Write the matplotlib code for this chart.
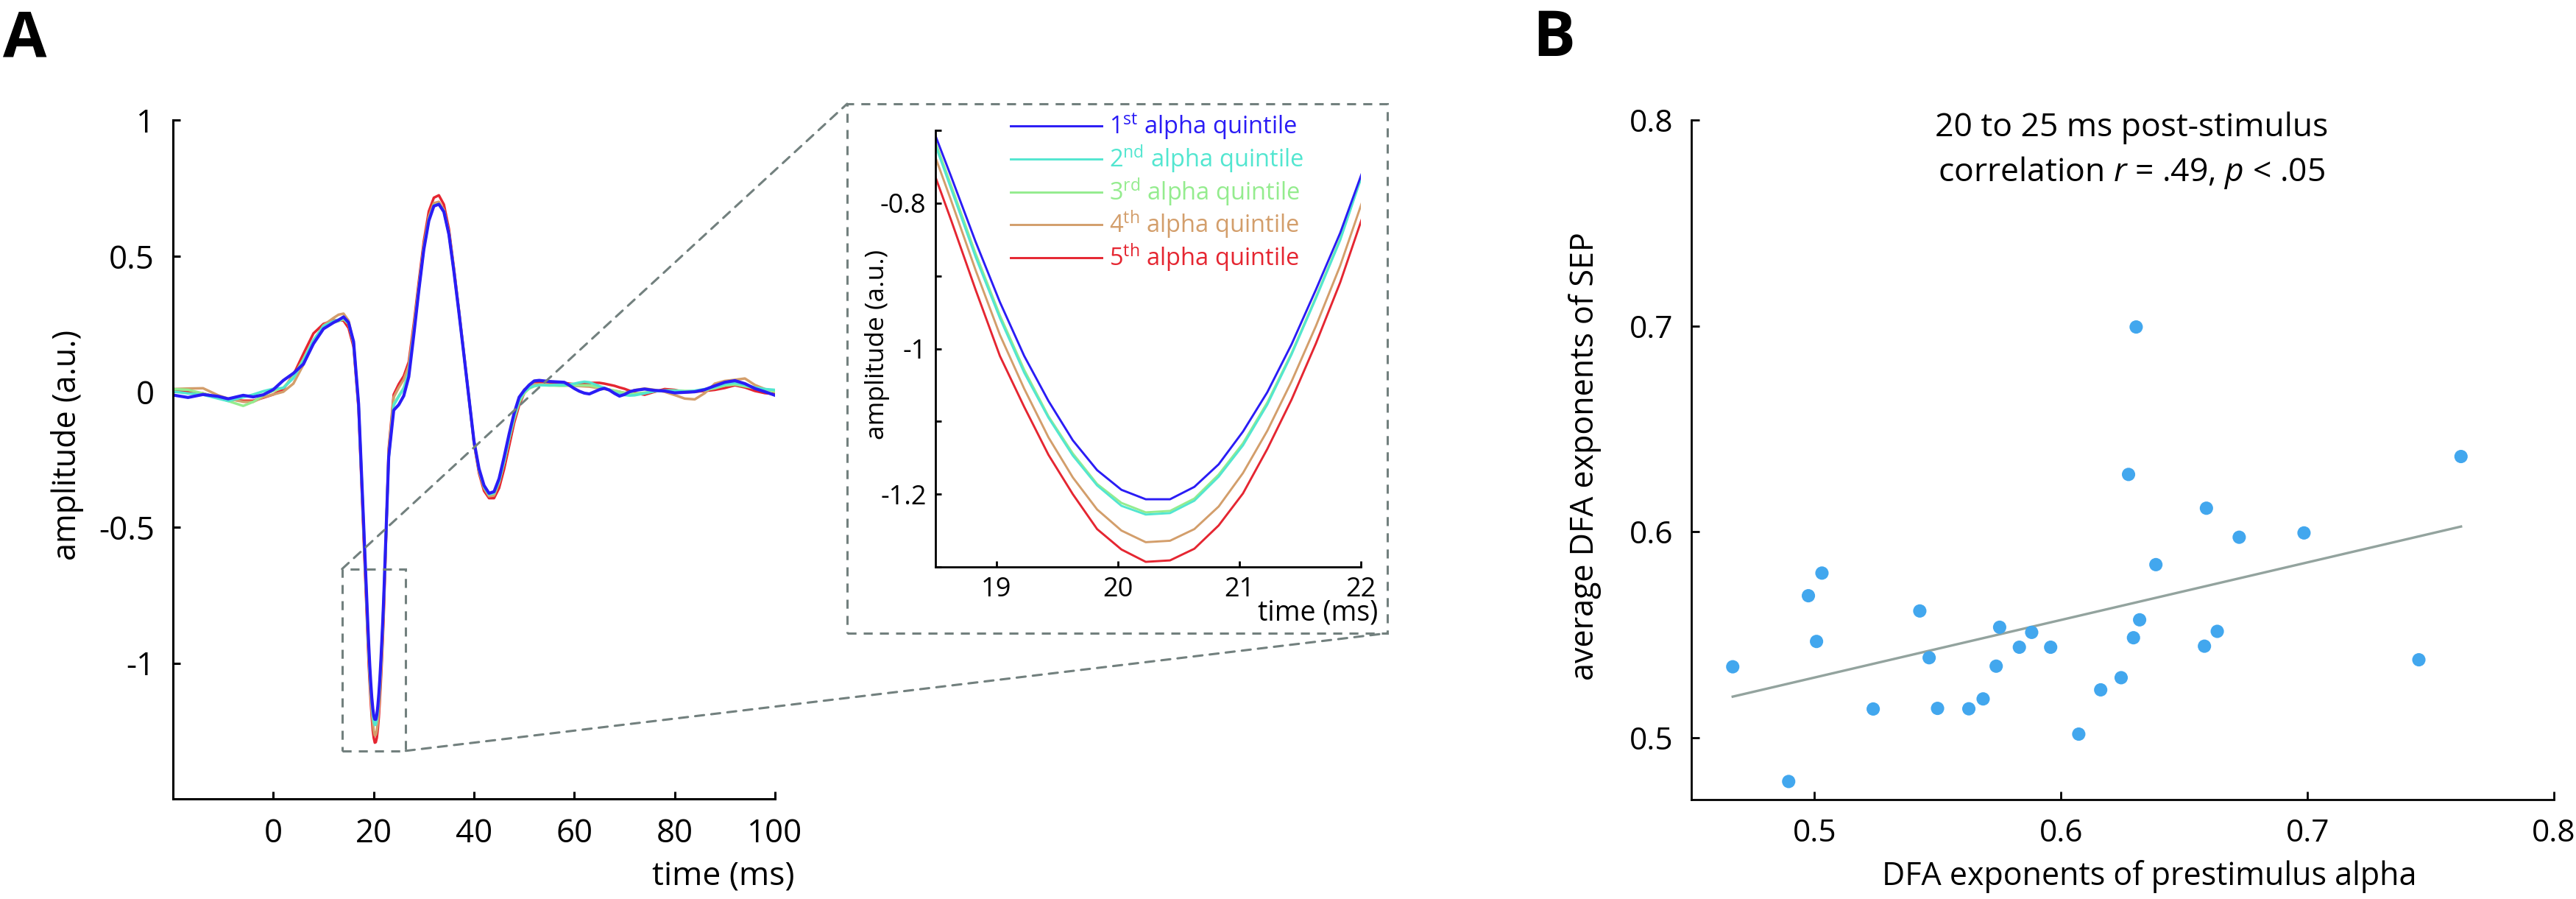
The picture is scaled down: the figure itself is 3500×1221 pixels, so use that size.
import numpy as np
import matplotlib.pyplot as plt
from matplotlib.patches import Rectangle, ConnectionPatch

plt.rcParams['font.family'] = ['Open Sans', 'DejaVu Sans']
plt.rcParams['mathtext.fontset'] = 'custom'
plt.rcParams['mathtext.rm'] = 'Open Sans'
plt.rcParams['mathtext.it'] = 'Open Sans:italic'
plt.rcParams['axes.unicode_minus'] = False

# ---- panel A: SEP per alpha quintile ----
time_ms = np.array([
    -20, -17, -14, -11, -9, -6, -4, -2, 0, 2, 4, 6, 8, 10, 12,
    13, 14, 15, 16, 17, 18,
    18.43, 18.63, 18.83, 19.03, 19.23, 19.43, 19.63, 19.83, 20.03, 20.23,
    20.43, 20.63, 20.83, 21.03, 21.23, 21.43, 21.63, 21.83, 22.03,
    23, 24, 25, 26, 27, 28, 29, 30, 31, 32, 33, 34, 35, 36, 37, 38, 39, 40,
    41, 42, 43, 44, 45, 46, 47, 48, 49, 50, 51, 52, 53, 54, 55, 56, 57, 58,
    59, 60, 61, 62, 63, 64, 65, 66, 67, 68, 69, 70, 71, 72,
    74, 76, 78, 80, 82, 84, 86, 88, 90, 92, 94, 96, 98, 100])

q1 = [-0.012, -0.021, -0.010, -0.017, -0.026, -0.013, -0.019, -0.011, 0.008, 0.042, 0.068, 0.102, 0.177, 0.232, 0.255,
      0.264, 0.276, 0.255, 0.185, -0.045, -0.485,
      -0.677, -0.764, -0.853, -0.936, -1.010, -1.072, -1.126, -1.167, -1.194, -1.207,
      -1.207, -1.190, -1.159, -1.114, -1.060, -0.994, -0.919, -0.841, -0.749,
      -0.240, -0.068, -0.048, -0.015, 0.055, 0.209, 0.373, 0.524, 0.630, 0.684, 0.691, 0.663, 0.580, 0.443, 0.292, 0.135, -0.024, -0.182,
      -0.283, -0.345, -0.374, -0.368, -0.320, -0.241, -0.156, -0.079, -0.020, 0.005, 0.025, 0.040, 0.042, 0.040, 0.038, 0.037, 0.036, 0.035,
      0.024, 0.012, 0.002, -0.005, -0.008, 0.000, 0.008, 0.013, 0.006, -0.006, -0.016, -0.010, 0.000, 0.005,
      0.010, 0.005, 0.003, -0.004, -0.002, 0.000, 0.008, 0.022, 0.035, 0.041, 0.030, 0.012, 0.000, -0.013]

q2 = [0.001, -0.006, -0.011, -0.025, -0.034, -0.020, -0.010, 0.002, 0.011, 0.014, 0.050, 0.115, 0.190, 0.242, 0.260,
      0.266, 0.272, 0.252, 0.180, -0.050, -0.495,
      -0.688, -0.781, -0.874, -0.958, -1.033, -1.095, -1.147, -1.188, -1.216, -1.228,
      -1.226, -1.209, -1.176, -1.133, -1.077, -1.008, -0.931, -0.851, -0.752,
      -0.245, -0.050, -0.018, 0.012, 0.072, 0.218, 0.378, 0.528, 0.634, 0.686, 0.692, 0.665, 0.582, 0.445, 0.293, 0.136, -0.024, -0.184,
      -0.287, -0.350, -0.378, -0.373, -0.330, -0.255, -0.170, -0.090, -0.030, 0.000, 0.015, 0.022, 0.024, 0.024, 0.024, 0.025, 0.025, 0.025,
      0.027, 0.030, 0.034, 0.037, 0.035, 0.028, 0.021, 0.014, 0.006, -0.003, -0.009, -0.012, -0.014, -0.013,
      -0.006, 0.002, 0.005, 0.004, 0.001, 0.004, 0.010, 0.017, 0.028, 0.033, 0.025, 0.016, 0.010, 0.007]

q3 = [0.010, 0.007, -0.006, -0.021, -0.034, -0.052, -0.037, -0.012, 0.003, 0.015, 0.056, 0.120, 0.190, 0.240, 0.257,
      0.260, 0.268, 0.250, 0.180, -0.050, -0.490,
      -0.684, -0.776, -0.869, -0.954, -1.029, -1.093, -1.144, -1.186, -1.212, -1.225,
      -1.223, -1.206, -1.173, -1.130, -1.074, -1.006, -0.929, -0.849, -0.751,
      -0.240, -0.045, -0.015, 0.015, 0.075, 0.220, 0.380, 0.530, 0.635, 0.687, 0.692, 0.665, 0.582, 0.445, 0.293, 0.136, -0.024, -0.184,
      -0.288, -0.350, -0.378, -0.374, -0.330, -0.260, -0.175, -0.100, -0.040, -0.005, 0.012, 0.020, 0.024, 0.024, 0.023, 0.023, 0.022, 0.022,
      0.023, 0.023, 0.024, 0.024, 0.024, 0.020, 0.016, 0.012, 0.008, 0.004, 0.000, -0.004, -0.007, -0.007,
      -0.003, 0.002, 0.004, 0.005, 0.003, 0.002, 0.006, 0.013, 0.023, 0.027, 0.020, 0.013, 0.006, 0.001]

q4 = [0.010, 0.012, 0.013, -0.013, -0.025, -0.037, -0.037, -0.020, -0.010, 0.000, 0.030, 0.100, 0.183, 0.245, 0.272,
      0.284, 0.288, 0.262, 0.178, -0.055, -0.510,
      -0.705, -0.797, -0.892, -0.981, -1.055, -1.122, -1.177, -1.221, -1.250, -1.266,
      -1.264, -1.248, -1.217, -1.171, -1.113, -1.045, -0.969, -0.886, -0.789,
      -0.220, -0.020, 0.015, 0.045, 0.095, 0.235, 0.390, 0.540, 0.645, 0.695, 0.700, 0.670, 0.586, 0.448, 0.295, 0.137, -0.024, -0.186,
      -0.292, -0.355, -0.385, -0.382, -0.335, -0.260, -0.175, -0.095, -0.030, 0.008, 0.020, 0.028, 0.028, 0.027, 0.026, 0.025, 0.025, 0.024,
      0.023, 0.022, 0.021, 0.020, 0.019, 0.016, 0.013, 0.010, 0.007, 0.004, 0.000, -0.004, 0.000, 0.006,
      0.012, 0.007, 0.000, -0.012, -0.025, -0.028, -0.005, 0.030, 0.040, 0.044, 0.049, 0.025, 0.010, 0.001]

q5 = [0.007, 0.000, -0.006, -0.022, -0.028, -0.033, -0.033, -0.022, -0.010, 0.010, 0.062, 0.140, 0.215, 0.250, 0.263,
      0.264, 0.262, 0.235, 0.165, -0.065, -0.535,
      -0.732, -0.824, -0.919, -1.010, -1.080, -1.146, -1.200, -1.248, -1.276, -1.293,
      -1.291, -1.275, -1.243, -1.199, -1.138, -1.070, -0.993, -0.909, -0.811,
      -0.210, -0.010, 0.028, 0.058, 0.110, 0.250, 0.405, 0.555, 0.665, 0.715, 0.724, 0.690, 0.600, 0.455, 0.300, 0.140, -0.024, -0.190,
      -0.300, -0.365, -0.392, -0.392, -0.355, -0.285, -0.200, -0.115, -0.050, -0.005, 0.015, 0.030, 0.036, 0.036, 0.035, 0.034, 0.033, 0.033,
      0.030, 0.028, 0.028, 0.030, 0.032, 0.033, 0.033, 0.030, 0.026, 0.022, 0.016, 0.011, 0.004, -0.004,
      -0.011, 0.000, 0.010, 0.007, -0.002, 0.000, 0.003, 0.007, 0.014, 0.024, 0.016, 0.003, -0.005, -0.008]

quintile_labels = ['1$^{\\mathrm{st}}$ alpha quintile', '2$^{\\mathrm{nd}}$ alpha quintile',
                   '3$^{\\mathrm{rd}}$ alpha quintile', '4$^{\\mathrm{th}}$ alpha quintile',
                   '5$^{\\mathrm{th}}$ alpha quintile']
quintile_colors = ['#2a1cf5', '#52e6d0', '#94ec8e', '#d39e6b', '#e52631']
series = [q1, q2, q3, q4, q5]

# ---- panel B: DFA exponents (one point per subject) ----
dfa_alpha = [0.4668, 0.4895, 0.4975, 0.5008, 0.5030, 0.5238, 0.5427, 0.5465, 0.5499, 0.5626, 0.5684,
             0.5737, 0.5751, 0.5831, 0.5881, 0.5958, 0.6072, 0.6161, 0.6244, 0.6274, 0.6294, 0.6305,
             0.6319, 0.6385, 0.6582, 0.6590, 0.6634, 0.6723, 0.6986, 0.7452, 0.7623]
dfa_sep = [0.5345, 0.4788, 0.5690, 0.5468, 0.5800, 0.5140, 0.5616, 0.5389, 0.5143, 0.5141, 0.5189,
           0.5348, 0.5537, 0.5440, 0.5512, 0.5440, 0.5018, 0.5233, 0.5292, 0.6279, 0.5486, 0.6995,
           0.5573, 0.5841, 0.5445, 0.6115, 0.5517, 0.5974, 0.5995, 0.5379, 0.6366]
fit_x = [0.4668, 0.7623]
fit_y = [0.520, 0.6026]

W, H = 3500, 1221
fig = plt.figure(figsize=(W / 100, H / 100), dpi=100)

def style_axes(a, lw=2.0, tick_len=7, pad=17):
    for s in ['top', 'right']:
        a.spines[s].set_visible(False)
    for s in ['left', 'bottom']:
        a.spines[s].set_linewidth(lw)
    a.tick_params(direction='in', length=tick_len, width=lw, pad=pad)

# main SEP axes
ax = fig.add_axes([235 / W, 1 - 1085 / H, 818 / W, 921.5 / H])
for k in [4, 3, 2, 1, 0]:
    ax.plot(time_ms, series[k], color=quintile_colors[k], lw=3.0 if k == 0 else 2.5)
ax.set_xlim(-20, 100)
ax.set_ylim(-1.5, 1)
ax.set_xticks([0, 20, 40, 60, 80, 100])
ax.set_yticks([-1, -0.5, 0, 0.5, 1])
ax.set_yticklabels(['-1', '-0.5', '0', '0.5', '1'])
style_axes(ax, lw=2.2, tick_len=7, pad=18)
ax.tick_params(labelsize=31.5)
ax.set_ylabel('amplitude (a.u.)', fontsize=31, va='center')
ax.yaxis.set_label_coords(-0.175, 0.521)
ax.set_xlabel('time (ms)', fontsize=32, ha='right', va='center')
ax.xaxis.set_label_coords(1.033, -0.115)

# zoom rectangle on the main axes
ax.add_patch(Rectangle((13.7, -1.323), 12.7, 0.67, fill=False, ec='#72807e', lw=2.2,
                       ls=(0, (4, 3.2)), clip_on=False, zorder=5))

# inset box and connectors (figure coordinates)
box_x0, box_y0, box_x1, box_y1 = 1151 / W, 1 - 860 / H, 1885 / W, 1 - 141 / H
fig.add_artist(Rectangle((box_x0, box_y0), box_x1 - box_x0, box_y1 - box_y0, transform=fig.transFigure,
                         fill=False, ec='#72807e', lw=2.2, ls=(0, (4, 3.2))))
for xa, ya, xb, yb in [(13.7, -0.653, box_x0, box_y1), (26.4, -1.323, box_x1, box_y0)]:
    fig.add_artist(ConnectionPatch(xyA=(xa, ya), coordsA=ax.transData, xyB=(xb, yb),
                                   coordsB=fig.transFigure, color='#72807e', lw=2.2,
                                   ls=(0, (4, 3.2))))

# inset axes
axi = fig.add_axes([1271 / W, 1 - 770 / H, 578 / W, 593 / H])
handles = []
for k in [4, 3, 2, 1, 0]:
    h, = axi.plot(time_ms, series[k], color=quintile_colors[k], lw=2.1, label=quintile_labels[k])
    handles.append(h)
handles = handles[::-1]
axi.set_xlim(18.5, 22)
axi.set_ylim(-1.3, -0.7)
axi.set_xticks([19, 20, 21, 22])
axi.set_yticks([-1.3, -1.2, -1.1, -1.0, -0.9, -0.8, -0.7])
axi.set_yticklabels(['', '-1.2', '', '-1', '', '-0.8', ''])
style_axes(axi, lw=2.0, tick_len=6, pad=9)
axi.tick_params(labelsize=26)
axi.set_ylabel('amplitude (a.u.)', fontsize=25.5, va='center')
axi.yaxis.set_label_coords(-0.137, 0.51)
axi.set_xlabel('time (ms)', fontsize=27, ha='right', va='center')
axi.xaxis.set_label_coords(1.04, -0.106)

leg = fig.legend(handles, quintile_labels, loc='upper left', bbox_to_anchor=(1373 / W, 1 - 152 / H),
                 bbox_transform=fig.transFigure, frameon=False, fontsize=23.5, labelcolor='linecolor',
                 handlelength=3.8, handletextpad=0.3, labelspacing=0.05, borderpad=0, borderaxespad=0)

# scatter panel
axb = fig.add_axes([2298 / W, 1 - 1086 / H, 1172 / W, 923 / H])
axb.plot(fit_x, fit_y, color='#93a39e', lw=2.4, zorder=1)
axb.scatter(dfa_alpha, dfa_sep, s=170, color='#42a7ee', edgecolors='none', zorder=2)
axb.set_xlim(0.45, 0.8)
axb.set_ylim(0.47, 0.8)
axb.set_xticks([0.5, 0.6, 0.7, 0.8])
axb.set_yticks([0.5, 0.6, 0.7, 0.8])
style_axes(axb, lw=2.0, tick_len=8, pad=18)
axb.tick_params(labelsize=30.5)
axb.set_ylabel('average DFA exponents of SEP', fontsize=31, va='center')
axb.yaxis.set_label_coords(-0.123, 0.505)
axb.set_xlabel('DFA exponents of prestimulus alpha', fontsize=31, va='center')
axb.xaxis.set_label_coords(0.531, -0.113)
axb.text(0.51, 0.988, '20 to 25 ms post-stimulus', transform=axb.transAxes, ha='center', va='center', fontsize=32)
axb.text(0.51, 0.923, 'correlation $\\mathit{r}$ = .49, $\\mathit{p}$ < .05', transform=axb.transAxes,
         ha='center', va='center', fontsize=32)

fig.text(4 / W, 1 - 55 / H, 'A', fontsize=62, fontweight='bold', va='center', ha='left')
fig.text(2082 / W, 1 - 54 / H, 'B', fontsize=62, fontweight='bold', va='center', ha='left')

fig.savefig('out.png', dpi=100)
